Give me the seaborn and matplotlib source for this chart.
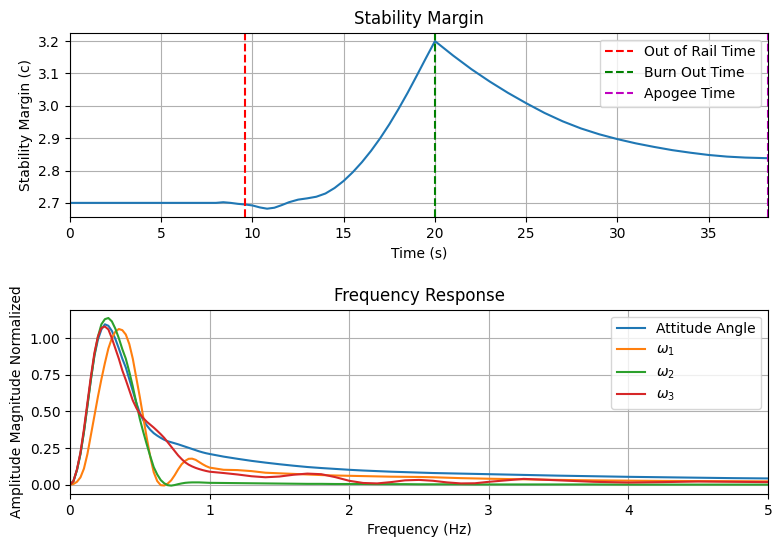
import numpy as np
import pandas as pd
import matplotlib
matplotlib.use('Agg')
import matplotlib.pyplot as plt
import seaborn as sns

# stability margin vs time
time_s = [0, 4, 8.0, 8.4, 8.8, 9.2, 9.6, 10.0, 10.4, 10.8, 11.2, 11.6, 12.0, 12.5, 13.0, 13.5,
          14.0, 14.5, 15.0, 15.5, 16.0, 16.5, 17.0, 17.5, 18.0, 18.5, 19.0, 19.5, 20.0,
          21, 22, 23, 24, 25, 26, 27, 28, 29, 30, 31, 32, 33, 34, 35, 36, 37, 38.25]
stability = [2.700, 2.700, 2.700, 2.702, 2.700, 2.697, 2.695, 2.692, 2.686, 2.682, 2.685, 2.693,
             2.702, 2.710, 2.714, 2.719, 2.729, 2.746, 2.768, 2.795, 2.826, 2.861, 2.900, 2.943,
             2.990, 3.040, 3.093, 3.147, 3.200,
             3.155, 3.113, 3.075, 3.040, 3.008, 2.978, 2.952, 2.930, 2.912, 2.897, 2.884, 2.873,
             2.863, 2.855, 2.848, 2.843, 2.840, 2.838]

out_of_rail_time = 9.59
burn_out_time = 20.0
apogee_time = 38.25

# frequency response
freq = [0, 0.025, 0.05, 0.075, 0.1, 0.125, 0.15, 0.175, 0.2, 0.225, 0.25, 0.275, 0.3, 0.325,
        0.35, 0.375, 0.4, 0.425, 0.45, 0.475, 0.5, 0.525, 0.55, 0.575, 0.6, 0.625, 0.65, 0.675,
        0.7, 0.725, 0.75, 0.775, 0.8, 0.825, 0.85, 0.875, 0.9, 0.925, 0.95, 0.975, 1.0,
        1.1, 1.2, 1.3, 1.4, 1.5, 1.6, 1.7, 1.8, 1.9, 2.0, 2.1, 2.2, 2.3, 2.4, 2.5, 2.6, 2.7,
        2.8, 2.9, 3.0, 3.25, 3.5, 3.75, 4.0, 4.25, 4.5, 4.75, 5.0]

attitude = [0, 0.025, 0.10, 0.21, 0.36, 0.54, 0.72, 0.88, 0.99, 1.06, 1.095, 1.085, 1.05, 0.995,
            0.93, 0.86, 0.80, 0.72, 0.64, 0.56, 0.49, 0.44, 0.405, 0.375, 0.352, 0.335, 0.32, 0.307,
            0.297, 0.29, 0.283, 0.276, 0.268, 0.26, 0.252, 0.244, 0.236, 0.228, 0.221, 0.215, 0.21,
            0.192, 0.177, 0.163, 0.151, 0.140, 0.130, 0.121, 0.114, 0.108, 0.102, 0.097, 0.093,
            0.089, 0.086, 0.083, 0.080, 0.078, 0.076, 0.074, 0.072, 0.067, 0.062, 0.058, 0.054,
            0.051, 0.048, 0.045, 0.043]

omega1 = [0, 0.005, 0.02, 0.05, 0.11, 0.21, 0.34, 0.47, 0.60, 0.72, 0.83, 0.93, 1.00, 1.045,
          1.063, 1.055, 1.025, 0.96, 0.86, 0.73, 0.60, 0.46, 0.32, 0.19, 0.085, 0.025, -0.003, -0.005,
          0.008, 0.03, 0.065, 0.105, 0.14, 0.163, 0.177, 0.178, 0.17, 0.155, 0.14, 0.127, 0.117,
          0.102, 0.10, 0.093, 0.082, 0.078, 0.074, 0.070, 0.066, 0.063, 0.061, 0.059, 0.057,
          0.055, 0.054, 0.053, 0.051, 0.048, 0.045, 0.043, 0.041, 0.037, 0.033, 0.030, 0.028,
          0.026, 0.025, 0.024, 0.023]

omega2 = [0, 0.025, 0.10, 0.21, 0.36, 0.54, 0.72, 0.885, 1.01, 1.095, 1.13, 1.138, 1.115, 1.065,
          1.00, 0.925, 0.86, 0.77, 0.67, 0.56, 0.45, 0.36, 0.275, 0.195, 0.12, 0.07, 0.032, 0.01,
          -0.003, -0.006, -0.002, 0.004, 0.009, 0.013, 0.015, 0.016, 0.016, 0.016, 0.015, 0.014, 0.013,
          0.012, 0.011, 0.010, 0.009, 0.008, 0.007, 0.006, 0.006, 0.005, 0.005, 0.005, 0.004,
          0.004, 0.004, 0.003, 0.003, 0.003, 0.003, 0.002, 0.002, 0.002, 0.002, 0.002, 0.001,
          0.001, 0.001, 0.001, 0.001]

omega3 = [0, 0.025, 0.105, 0.22, 0.38, 0.56, 0.74, 0.90, 1.01, 1.07, 1.08, 1.06, 1.00, 0.93,
          0.86, 0.78, 0.715, 0.645, 0.575, 0.525, 0.483, 0.455, 0.43, 0.41, 0.39, 0.368, 0.345, 0.32,
          0.29, 0.26, 0.23, 0.20, 0.175, 0.153, 0.137, 0.125, 0.115, 0.107, 0.10, 0.094, 0.089,
          0.080, 0.070, 0.058, 0.051, 0.056, 0.068, 0.076, 0.072, 0.052, 0.027, 0.012, 0.009,
          0.018, 0.030, 0.033, 0.027, 0.016, 0.009, 0.010, 0.020, 0.040, 0.030, 0.020, 0.015,
          0.018, 0.022, 0.020, 0.018]

stab_df = pd.DataFrame({'time': time_s, 'margin': stability})
freq_df = pd.DataFrame({'freq': freq, 'att': attitude, 'w1': omega1, 'w2': omega2, 'w3': omega3})

fig, (ax1, ax2) = plt.subplots(2, 1, figsize=(7.81, 5.47), dpi=100)
fig.subplots_adjust(left=0.0896, right=0.9834, top=0.9402, bottom=0.0969, hspace=0.502)

sns.lineplot(data=stab_df, x='time', y='margin', ax=ax1, color='C0')
ax1.axvline(out_of_rail_time, color='r', linestyle='--', label='Out of Rail Time')
ax1.axvline(burn_out_time, color='g', linestyle='--', label='Burn Out Time')
ax1.axvline(apogee_time, color='m', linestyle='--', label='Apogee Time')
ax1.set_xlim(0, apogee_time)
ax1.set_title('Stability Margin')
ax1.set_xlabel('Time (s)')
ax1.set_ylabel('Stability Margin (c)')
ax1.grid(True)
ax1.legend(loc='upper right')

sns.lineplot(data=freq_df, x='freq', y='att', ax=ax2, color='C0', label='Attitude Angle')
sns.lineplot(data=freq_df, x='freq', y='w1', ax=ax2, color='C1', label=r'$\omega_1$')
sns.lineplot(data=freq_df, x='freq', y='w2', ax=ax2, color='C2', label=r'$\omega_2$')
sns.lineplot(data=freq_df, x='freq', y='w3', ax=ax2, color='C3', label=r'$\omega_3$')
ax2.set_xlim(0, 5)
ax2.set_title('Frequency Response')
ax2.set_xlabel('Frequency (Hz)')
ax2.set_ylabel('Amplitude Magnitude Normalized')
ax2.grid(True)
ax2.legend(loc='upper right')

fig.savefig('out.png', dpi=100)
